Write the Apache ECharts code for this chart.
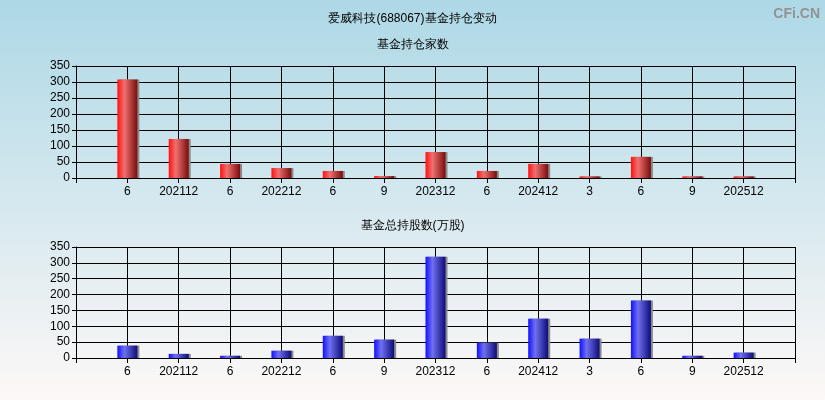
<!DOCTYPE html>
<html><head><meta charset="utf-8">
<script src="https://cdn.jsdelivr.net/npm/echarts@6/dist/echarts.min.js"></script>
<style>html,body{margin:0;padding:0;}#c{width:825px;height:400px;}</style>
</head><body><div id="c"></div>
<script>
var categories = ['6','202112','6','202212','6','9','202312','6','202412','3','6','9','202512'];
var fundCount = [308, 122, 44, 31, 22, 6, 81, 22, 44, 5, 66, 5, 5];
var fundShares = [39, 13, 7, 23, 70, 58, 319, 48, 124, 61, 181, 7, 17];
var yTicks = [0, 50, 100, 150, 200, 250, 300, 350];
var mainTitle = '爱威科技(688067)基金持仓变动';
var topTitle = '基金持仓家数';
var bottomTitle = '基金总持股数(万股)';
var watermark = 'CFi.CN';

var xCats = [''].concat(categories).concat(['']);
function pad(a){ return [null].concat(a).concat([null]); }
var font = 'Liberation Sans, Arial, sans-serif';
function grad(c1,c2,c3){
  return new echarts.graphic.LinearGradient(0,0,1,0,[
    {offset:0,color:c1},{offset:0.35,color:c2},{offset:1,color:c3}]);
}
function xAxis(gi){
  return {type:'category', gridIndex:gi, data:xCats, boundaryGap:false,
    axisLine:{lineStyle:{color:'#000',width:1}},
    axisTick:{show:true,length:5,lineStyle:{color:'#000'}},
    axisLabel:{interval:0,color:'#000',fontSize:12,fontFamily:font,margin:8},
    splitLine:{show:true,lineStyle:{color:'#000',width:1}}};
}
function yAxis(gi){
  return {type:'value', gridIndex:gi, min:yTicks[0], max:yTicks[yTicks.length-1], interval:50,
    axisLine:{show:true,lineStyle:{color:'#000'}},
    axisTick:{show:true,length:4,lineStyle:{color:'#000'}},
    axisLabel:{color:'#000',fontSize:12,fontFamily:font,margin:6},
    splitLine:{show:true,lineStyle:{color:'#000',width:1}}};
}
var chart = echarts.init(document.getElementById('c'));
chart.setOption({
  animation:false,
  backgroundColor: new echarts.graphic.LinearGradient(0,0,0,1,[
    {offset:0,color:'#add8e6'},{offset:1,color:'#fdf8f7'}]),
  title:[
    {text:mainTitle,left:'center',top:8,textStyle:{fontSize:12,fontWeight:'normal',color:'#000',fontFamily:font}},
    {text:topTitle,left:'center',top:34,textStyle:{fontSize:12,fontWeight:'normal',color:'#000',fontFamily:font}},
    {text:bottomTitle,left:'center',top:215,textStyle:{fontSize:12,fontWeight:'normal',color:'#000',fontFamily:font}},
    {text:watermark,right:0,top:2,textStyle:{fontSize:14,fontWeight:'bold',color:'#939393',fontFamily:font}}
  ],
  grid:[
    {left:76,right:30,top:66,height:112},
    {left:76,right:30,top:247,height:111}
  ],
  xAxis:[xAxis(0),xAxis(1)],
  yAxis:[yAxis(0),yAxis(1)],
  series:[
    {type:'bar',xAxisIndex:0,yAxisIndex:0,data:pad(fundCount),barWidth:20,
      itemStyle:{color:grad('#ff1010','#f07070','#7a0c0c'),shadowColor:'#8a8a8a',shadowOffsetX:2,shadowBlur:0}},
    {type:'bar',xAxisIndex:1,yAxisIndex:1,data:pad(fundShares),barWidth:20,
      itemStyle:{color:grad('#1010ff','#7070f0','#0c0c7a'),shadowColor:'#8a8a8a',shadowOffsetX:2,shadowBlur:0}}
  ]
});
</script></body></html>
